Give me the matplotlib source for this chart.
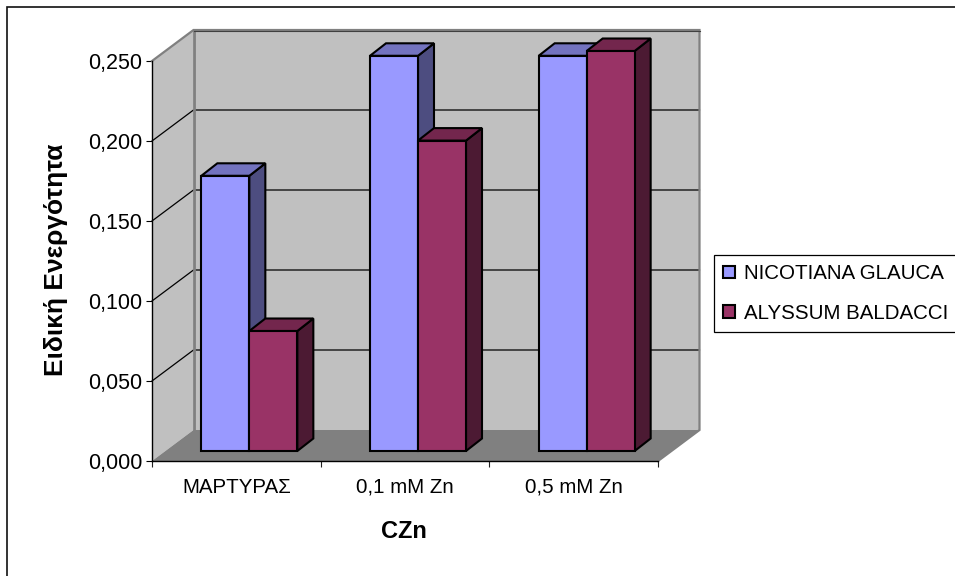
import matplotlib
matplotlib.use("Agg")
import matplotlib.pyplot as plt
from matplotlib.patches import Polygon, Rectangle, Patch
from matplotlib.ticker import FuncFormatter

categories = ["ΜΑΡΤΥΡΑΣ", "0,1 mM Zn", "0,5 mM Zn"]
nicotiana = [0.172, 0.247, 0.247]
alyssum = [0.075, 0.194, 0.250]
series_names = ["NICOTIANA GLAUCA", "ALYSSUM BALDACCI"]
yticks = [0.0, 0.05, 0.10, 0.15, 0.20, 0.25]

W, H = 955, 576
plt.rcParams["font.family"] = ["Liberation Sans", "DejaVu Sans"]
fig = plt.figure(figsize=(W / 100, H / 100), dpi=100)
fig.patch.set_facecolor("white")
fig.add_artist(Rectangle((7 / W, -0.05), 1.1, (H - 7) / H + 0.05, transform=fig.transFigure,
                         fill=False, ec="#101010", lw=1.2))

ax = fig.add_axes([152 / W, 1 - 461 / H, 506 / W, 400 / H])
ax.set_xlim(0, 3)
ax.set_ylim(0, 0.25)
ax.patch.set_visible(False)

# pixel -> data conversion of the 3D depth
PX, PY = 3 / 506, 0.25 / 400
DX, DY = 41.5 * PX, 31 * PY      # wall depth
OX, OY = 13 * PX, 10 * PY        # bar front-plane depth
BX, BY = 16 * PX, 12.5 * PY      # bar depth
BW = 48 * PX
ytop = 0.25
WALL, FLOOR, EDGE = "#C0C0C0", "#808080", "#808080"

def poly(pts, fc, ec="none", lw=0, z=1):
    ax.add_patch(Polygon(pts, closed=True, fc=fc, ec=ec, lw=lw, zorder=z, clip_on=False,
                         joinstyle="miter"))

# walls and floor
poly([(DX, DY), (3 + DX, DY), (3 + DX, ytop + DY), (DX, ytop + DY)], WALL)
poly([(0, 0), (DX, DY), (DX, ytop + DY), (0, ytop)], WALL)
poly([(0, 0), (3, 0), (3 + DX, DY), (DX, DY)], FLOOR)
for t in yticks[1:-1]:
    ax.plot([0, DX, 3 + DX], [t, t + DY, t + DY], color="black", lw=0.9, zorder=2, clip_on=False)
ax.plot([DX, DX], [DY, ytop + DY], color=EDGE, lw=2, zorder=2, clip_on=False)
ax.plot([0, DX, 3 + DX, 3 + DX, 3], [ytop, ytop + DY, ytop + DY, DY, 0],
        color=EDGE, lw=1.6, zorder=2, clip_on=False, solid_joinstyle="miter")
ax.plot([DX, 3 + DX], [ytop + DY - 0.0006] * 2, color="#404040", lw=0.8, zorder=2, clip_on=False)

# bars
def bar3d(x, v, front, top, side, z):
    x0 = x + OX
    y0, y1 = OY, OY + v
    x1 = x0 + BW
    lw = 1.5
    poly([(x1, y0), (x1 + BX, y0 + BY), (x1 + BX, y1 + BY), (x1, y1)], side, "black", lw, z)
    poly([(x0, y1), (x1, y1), (x1 + BX, y1 + BY), (x0 + BX, y1 + BY)], top, "black", lw, z)
    ax.bar(x0, v, width=BW, bottom=y0, align="edge", color=front, edgecolor="black",
           linewidth=lw, zorder=z, clip_on=False)

for i in range(3):
    z = 3 + i
    bar3d(i + 0.5 - BW, nicotiana[i], "#9999FF", "#7373BF", "#4D4D80", z)
    bar3d(i + 0.5, alyssum[i], "#993366", "#73264D", "#4C1A33", z + 0.5)

# axes
for s in ("top", "right"):
    ax.spines[s].set_visible(False)
for s in ("left", "bottom"):
    ax.spines[s].set_linewidth(1.0)
    ax.spines[s].set_zorder(10)
ax.set_yticks(yticks)
ax.yaxis.set_major_formatter(FuncFormatter(lambda v, _: f"{v:.3f}".replace(".", ",")))
ax.set_xticks([0, 1, 2, 3])
ax.set_xticklabels([])
ax.set_xticks([0.5, 1.5, 2.5], minor=True)
ax.set_xticklabels(categories, minor=True)
ax.tick_params(axis="x", which="major", length=4.5, width=0.8, color="#202020")
ax.tick_params(axis="x", which="minor", length=0, labelsize=14.8, pad=12)
ax.tick_params(axis="y", length=4, width=0.8, labelsize=15.5, pad=3)

fig.text(404 / W, 1 - 532 / H, "CZn", fontsize=17, fontweight="bold", ha="center", va="center")
fig.text(56.5 / W, 1 - 260 / H, "Ειδική Ενεργότητα", fontsize=19, fontweight="bold",
         rotation=90, ha="center", va="center")

handles = [Patch(fc="#9999FF", ec="black", lw=1.5), Patch(fc="#993366", ec="black", lw=1.5)]
leg = fig.legend(handles, series_names, loc="upper left",
                 bbox_to_anchor=(714 / W, 1 - 255 / H), bbox_transform=fig.transFigure,
                 fontsize=14.8, frameon=True, fancybox=False, edgecolor="black", framealpha=1,
                 borderaxespad=0, borderpad=0.45, handlelength=0.55, handleheight=0.55,
                 handletextpad=0.45, labelspacing=1.0)
leg.get_frame().set_linewidth(0.9)

fig.savefig("out.png", dpi=100)
